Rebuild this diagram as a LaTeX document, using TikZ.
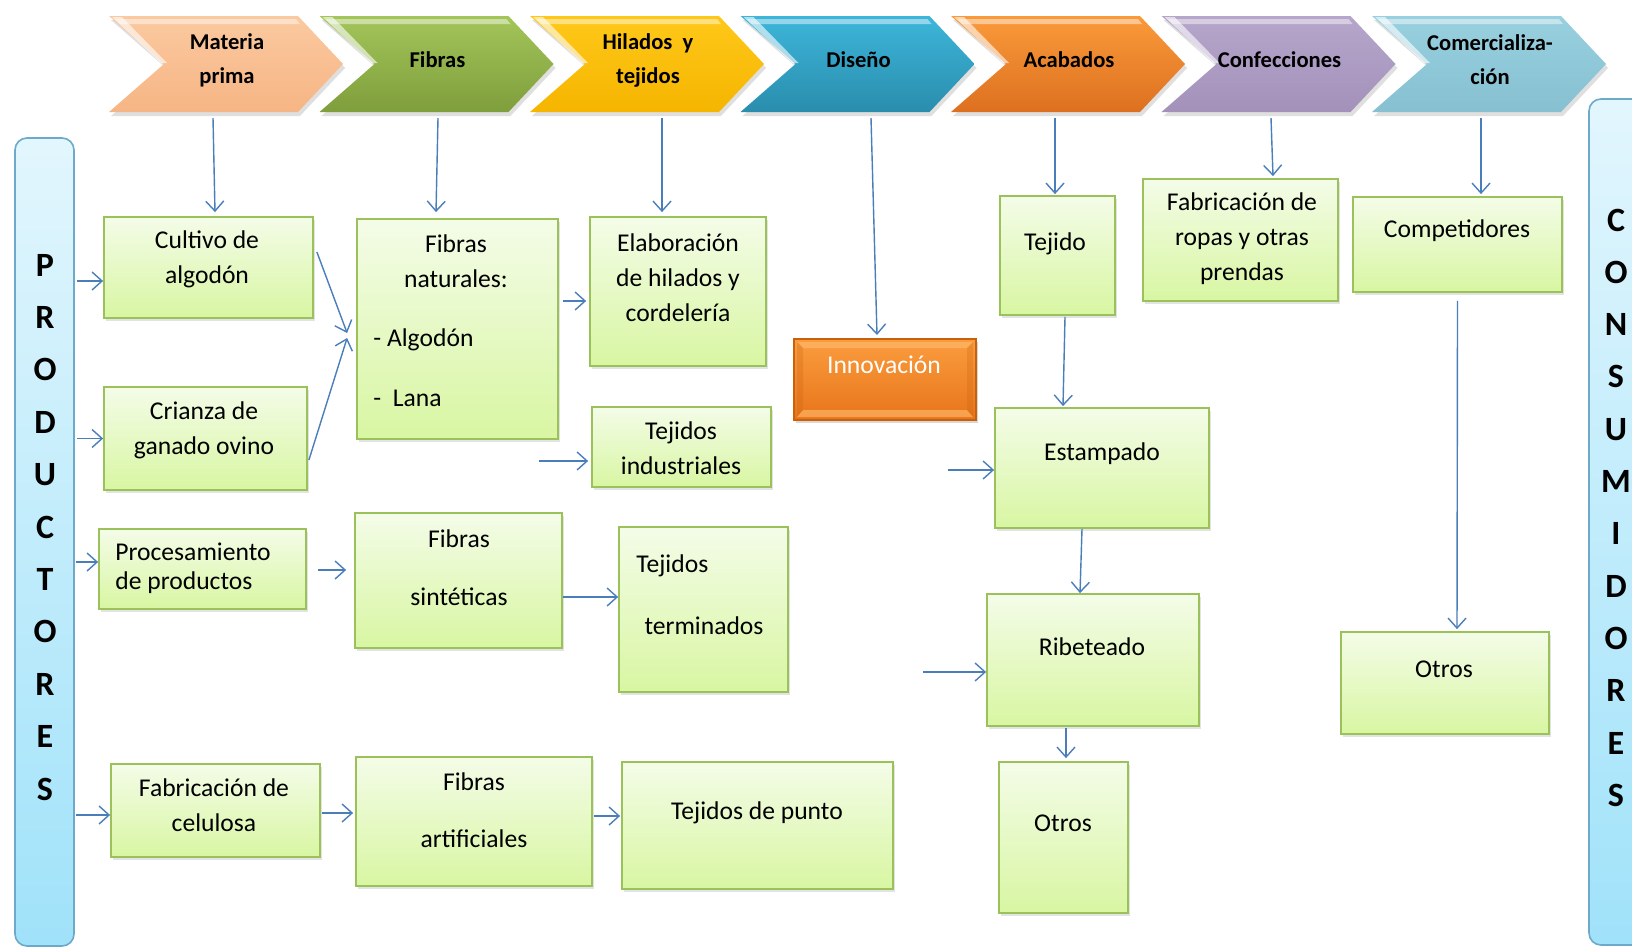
\documentclass[tikz,border=0pt]{standalone}
\usepackage{fontspec}
\setmainfont{Carlito}
\usetikzlibrary{arrows.meta,shadows,fit}
\definecolor{arrowblue}{HTML}{4A7EBB}
\definecolor{boxborder}{HTML}{9BC15A}
\definecolor{boxtop}{HTML}{F4FCE8}
\definecolor{boxbot}{HTML}{D8F6A2}
\definecolor{bartop}{HTML}{E2F6FD}
\definecolor{barbot}{HTML}{A0E2FA}
\definecolor{barborder}{HTML}{6DA9C9}
\definecolor{innovtop}{HTML}{FA9D3E}
\definecolor{innovbot}{HTML}{E8741A}
\definecolor{innovborder}{HTML}{C8600E}
\definecolor{innovlight}{HTML}{FDB463}
\definecolor{cAt}{HTML}{FBC9A0}\definecolor{cAb}{HTML}{F6B584}
\definecolor{cBt}{HTML}{A3C55A}\definecolor{cBb}{HTML}{7F9E3C}
\definecolor{cCt}{HTML}{FFC819}\definecolor{cCb}{HTML}{F5B500}
\definecolor{cDt}{HTML}{3DB6DA}\definecolor{cDb}{HTML}{2A8DAD}
\definecolor{cEt}{HTML}{FA9A3A}\definecolor{cEb}{HTML}{DD7020}
\definecolor{cFt}{HTML}{B6A6CB}\definecolor{cFb}{HTML}{A391BA}
\definecolor{cGt}{HTML}{98D0DF}\definecolor{cGb}{HTML}{86C0D1}
\newcommand\mychev[5]{%
  \path[top color=#3, bottom color=#4, drop shadow={opacity=0.25,shadow xshift=1pt,shadow yshift=-2pt}]
    (#2,16) -- (#2+189,16) -- (#2+234,64) -- (#2+189,112) -- (#2,112) -- (#2+55,64) -- cycle;
  \fill[white, opacity=0.45] (#2+6,19) -- (#2+187,19) -- (#2+191,24) -- (#2+11,24) -- cycle;
  \fill[white, opacity=0.6] (#2+3,17) -- (#2+13,17) -- (#2+58,63) -- (#2+52,63) -- cycle;
  \node[chevtxt] (#1) at (#2+118,60) {#5};
}
\begin{document}
\begin{tikzpicture}[x=0.5pt,y=-0.5pt,
  gbox/.style={draw=boxborder, line width=0.9pt, top color=boxtop, bottom color=boxbot, inner sep=0pt,
    drop shadow={opacity=0.22,shadow xshift=1.2pt,shadow yshift=-1.6pt}},
  txt/.style={font=\fontsize{12.8}{17.5}\selectfont, text=black, align=center, inner sep=0pt},
  chevtxt/.style={font=\bfseries\fontsize{11.3}{17}\selectfont, align=center, text=black, inner sep=0pt},
  arr/.style={draw=arrowblue, line width=0.7pt, -{Straight Barb[length=5pt,width=9pt]}},
  side/.style={font=\bfseries\fontsize{17}{17}\selectfont, text=black, inner sep=0pt},
  sidebar/.style={draw=barborder, line width=0.8pt, top color=bartop, bottom color=barbot, inner sep=0pt, rounded corners=6pt}
]
\useasboundingbox (0,0) rectangle (1632,948);
\clip (0,0) rectangle (1632,948);
\fill[white] (0,0) rectangle (1632,948);

% chevrons
\mychev{c1}{109}{cAt}{cAb}{Materia\\prima}
\mychev{c2}{319.5}{cBt}{cBb}{Fibras}
\mychev{c3}{530}{cCt}{cCb}{Hilados\ \ y\\tejidos}
\mychev{c4}{740.5}{cDt}{cDb}{Diseño}
\mychev{c5}{951}{cEt}{cEb}{Acabados}
\mychev{c6}{1161.5}{cFt}{cFb}{Confecciones}
\mychev{c7}{1372}{cGt}{cGb}{Comercializa-\\ción}

\coordinate (ch1b) at (213,118);
\coordinate (ch2b) at (438,118);
\coordinate (ch3b) at (662,118);
\coordinate (ch4b) at (871,118);
\coordinate (ch5b) at (1055,118);
\coordinate (ch6b) at (1271,118);
\coordinate (ch7b) at (1481,118);

% side bars
\node[sidebar, fit={(15,138) (74,946)}] (prod) {};
\node[sidebar, fit={(1589,99) (1665,945)}] (cons) {};
\foreach \l [count=\i from 0] in {P,R,O,D,U,C,T,O,R,E,S}
  \node[side] (p\i) at (45,265+52.4*\i) {\l};
\foreach \l [count=\i from 0] in {C,O,N,S,U,M,I,D,O,R,E,S}
  \node[side] (k\i) at (1616,220+52.3*\i) {\l};

% boxes
\node[gbox, fit={(104,217) (313,318)}] (cult) {};
\node[gbox, fit={(104,387) (307,490)}] (cri) {};
\node[gbox, fit={(357,219) (558,439)}] (fnat) {};
\node[gbox, fit={(590,217) (766,366)}] (elab) {};
\node[gbox, fit={(592,407) (771,487)}] (tind) {};
\node[gbox, fit={(99,529) (306,609)}] (proc) {};
\node[gbox, fit={(355,513) (562,648)}] (fsint) {};
\node[gbox, fit={(619,527) (788,692)}] (tterm) {};
\node[gbox, fit={(111,764) (320,857)}] (cel) {};
\node[gbox, fit={(356,757) (592,886)}] (fart) {};
\node[gbox, fit={(622,762) (893,889)}] (tpun) {};
\node[gbox, fit={(1000,196) (1115,315)}] (tej) {};
\node[gbox, fit={(1143,179) (1338,301)}] (ropa) {};
\node[gbox, fit={(1353,197) (1562,292)}] (comp) {};
\node[gbox, fit={(995,408) (1209,528)}] (est) {};
\node[gbox, fit={(987,594) (1199,726)}] (rib) {};
\node[gbox, fit={(999,762) (1128,913)}] (otr1) {};
\node[gbox, fit={(1341,632) (1549,734)}] (otr2) {};
\node[fit={(794,339) (976,420)}, inner sep=0pt, draw=innovborder, line width=1pt,
  top color=innovtop, bottom color=innovbot,
  drop shadow={opacity=0.3,shadow xshift=1.2pt,shadow yshift=-1.6pt}] (innov) {};
\fill[innovlight, opacity=0.8] (797,342) -- (973,342) -- (967,348) -- (803,348) -- cycle;
\fill[innovlight, opacity=0.7] (803,410) -- (967,410) -- (973,417) -- (797,417) -- cycle;
\fill[innovborder, opacity=0.25] (797,342) -- (803,348) -- (803,410) -- (797,417) -- cycle;
\fill[innovborder, opacity=0.25] (973,342) -- (967,348) -- (967,410) -- (973,417) -- cycle;

% texts
\node[txt] (t-cult) at (207,259.5) {Cultivo de\\algodón};
\node[txt] (t-cri) at (204,430) {Crianza de\\ganado ovino};
\node[txt] (t-fnat1) at (456,261.5) {Fibras\\naturales:};
\node[txt, anchor=west] (t-fnat2) at (373,340) {- Algodón};
\node[txt, anchor=west] (t-fnat3) at (373,398) {-~~Lana};
\node[txt] (t-elab) at (678,278) {Elaboración\\de hilados y\\cordelería};
\node[txt] (t-tind) at (681,448.5) {Tejidos\\industriales};
\node[txt, align=left, anchor=west, font=\fontsize{12.8}{14.5}\selectfont] (t-proc) at (115,568.5) {Procesamiento\\de productos};
\node[txt] (t-fsint) at (459,568) {Fibras\\[11.5pt]sintéticas};
\node[txt, anchor=west] (t-tterm1) at (636,566) {Tejidos};
\node[txt] (t-tterm2) at (704,626) {terminados};
\node[txt] (t-cel) at (214,805.5) {Fabricación de\\celulosa};
\node[txt] (t-fart) at (474,810.5) {Fibras\\[11pt]artificiales};
\node[txt] (t-tpun) at (757,813) {Tejidos de punto};
\node[txt, text=white] (t-innov) at (884,365) {Innovación};
\node[txt] (t-tej) at (1055,244) {Tejido};
\node[txt] (t-ropa) at (1242,239) {Fabricación de\\ropas y otras\\prendas};
\node[txt] (t-comp) at (1457,231) {Competidores};
\node[txt] (t-est) at (1102,454) {Estampado};
\node[txt] (t-rib) at (1092,647) {Ribeteado};
\node[txt] (t-otr1) at (1063,823) {Otros};
\node[txt] (t-otr2) at (1444,669) {Otros};

% connectors from chevrons
\draw[arr] (ch1b) -- ([xshift=3.25pt,yshift=2pt]cult.north);
\draw[arr] (ch2b) -- ([xshift=-10.75pt,yshift=3pt]fnat.north);
\draw[arr] (ch3b) -- ([xshift=-8pt,yshift=2pt]elab.north);
\draw[arr] (ch4b) -- ([xshift=-4pt,yshift=1.5pt]innov.north);
\draw[arr] (ch5b) -- ([xshift=-1.25pt,yshift=0.5pt]tej.north);
\draw[arr] (ch6b) -- ([xshift=16.25pt,yshift=1pt]ropa.north);
\draw[arr] (ch7b) -- ([xshift=11.75pt,yshift=1pt]comp.north);

% producers
\draw[arr] ([xshift=-13pt,yshift=-6.75pt]cult.west) -- ([yshift=-6.75pt]cult.west);
\draw[arr] ([xshift=-13pt]cri.west) -- (cri.west);
\draw[arr] ([xshift=-11pt,yshift=3.5pt]proc.west) -- ([yshift=3.5pt]proc.west);
\draw[arr] ([xshift=-17pt,yshift=-2.25pt]cel.west) -- ([yshift=-2.25pt]cel.west);

% chains
\draw[arr] ([xshift=1.5pt,yshift=7.75pt]cult.east) -- ([xshift=-4.5pt,yshift=-2pt]fnat.west);
\draw[arr] ([xshift=0.5pt,yshift=-10.75pt]cri.east) -- ([xshift=-4.5pt,yshift=-4.5pt]fnat.west);
\draw[arr] ([xshift=2pt,yshift=14pt]fnat.east) -- ([xshift=-1.5pt,yshift=-4.75pt]elab.west);
\coordinate (ti0) at (539,461);
\draw[arr] (ti0) -- ([xshift=-1.5pt,yshift=-7pt]tind.west);
\draw[arr] ([xshift=5.5pt,yshift=-0.5pt]proc.east) -- ([xshift=-4pt,yshift=5.25pt]fsint.west);
\draw[arr] ([yshift=-8.25pt]fsint.east) -- ([yshift=6.25pt]tterm.west);
\draw[arr] ([xshift=0.5pt,yshift=-1.25pt]cel.east) -- ([xshift=-1pt,yshift=4.25pt]fart.west);
\draw[arr] ([xshift=0.5pt,yshift=2.75pt]fart.east) -- ([xshift=-0.5pt,yshift=4.75pt]tpun.west);

\draw[arr] ([xshift=3.75pt,yshift=-0.5pt]tej.south) -- ([xshift=-19.5pt,yshift=0.5pt]est.north);
\coordinate (es0) at (948,470);
\draw[arr] (es0) -- ([yshift=-1pt]est.west);
\draw[arr] ([xshift=-10pt]est.south) -- ([xshift=-6.5pt]rib.north);
\coordinate (rb0) at (923,672);
\draw[arr] (rb0) -- ([yshift=-6pt]rib.west);
\draw[arr] ([xshift=-13.5pt,yshift=-0.5pt]rib.south) -- ([xshift=1.25pt,yshift=1.5pt]otr1.north);
\draw[arr] ([yshift=-4pt]comp.south) -- ([xshift=6pt,yshift=1pt]otr2.north);
\end{tikzpicture}
\end{document}
